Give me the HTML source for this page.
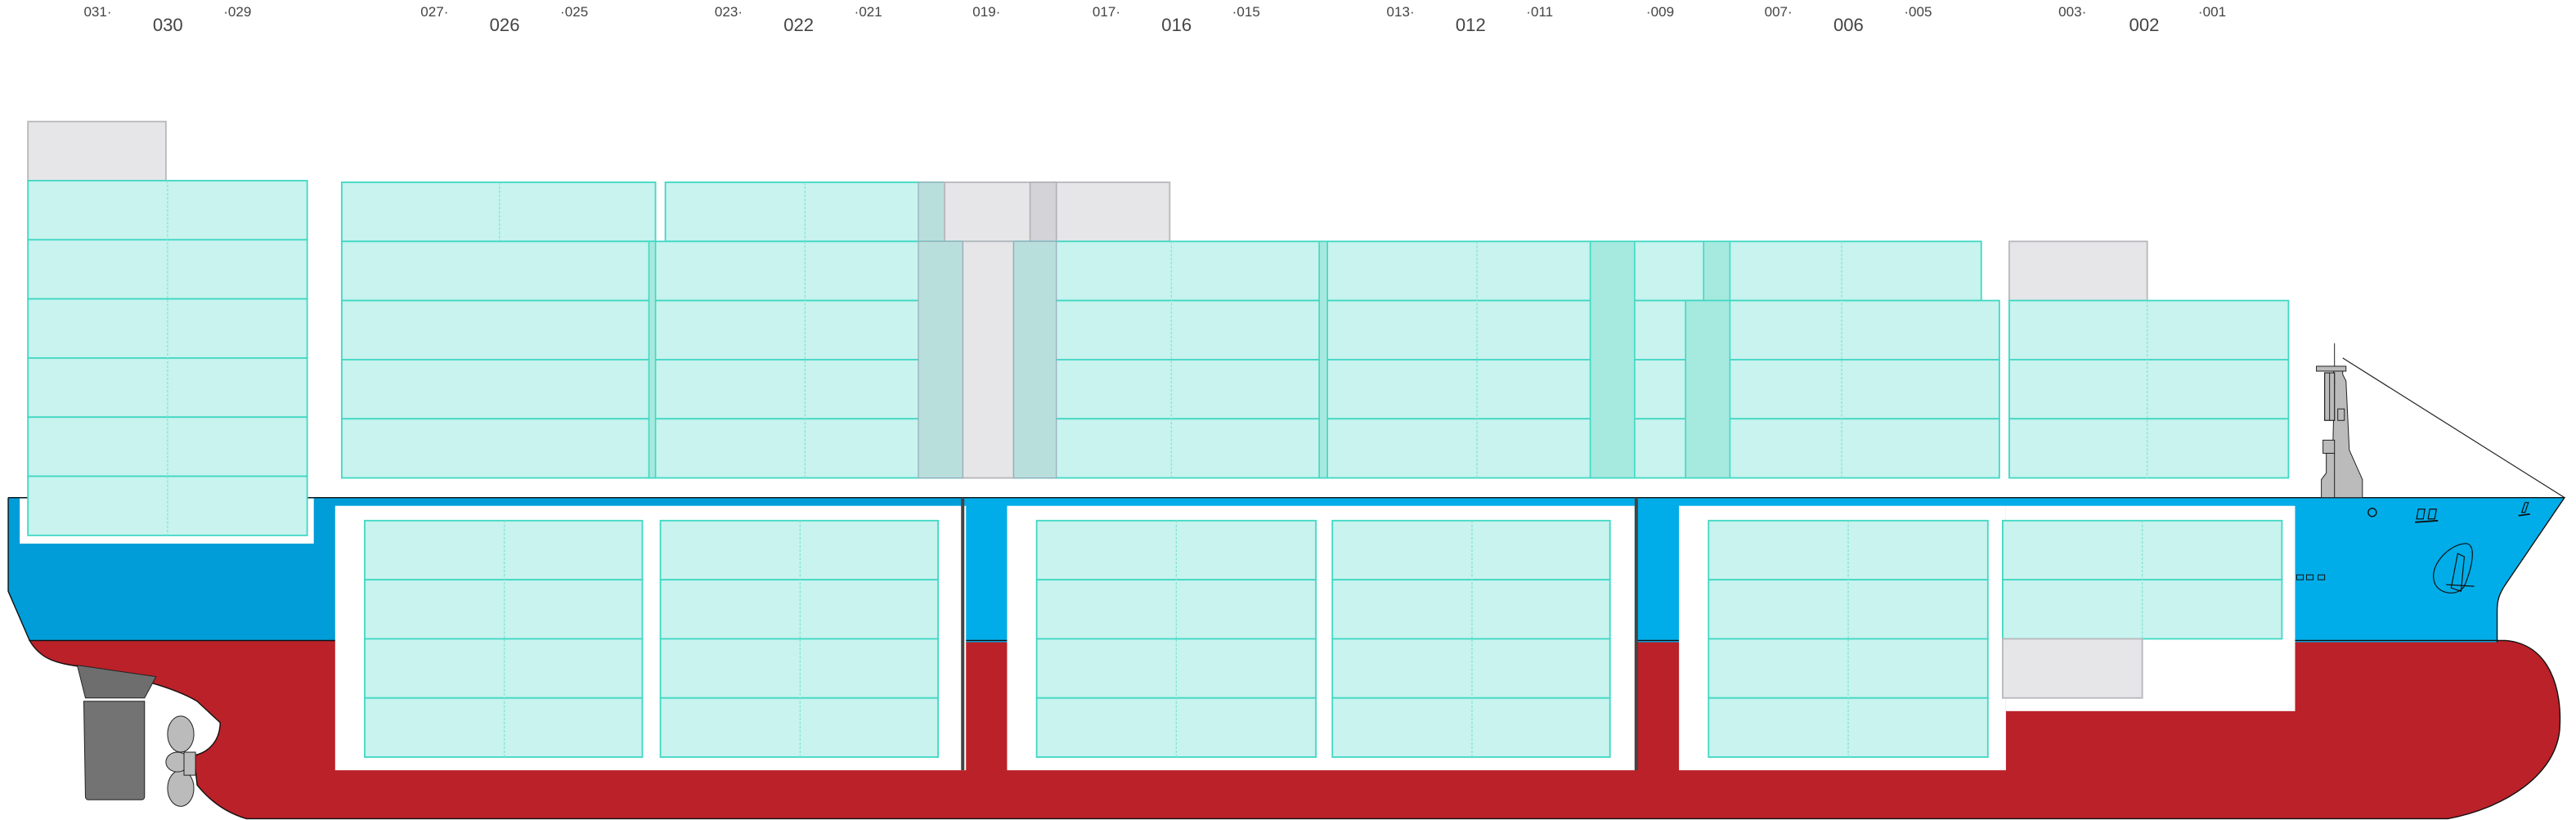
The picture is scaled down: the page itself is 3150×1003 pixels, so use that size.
<!DOCTYPE html>
<html><head><meta charset="utf-8"><style>
html,body{margin:0;padding:0;background:#fff}
svg{display:block}
text{font-family:"Liberation Sans",sans-serif;fill:#444}
</style></head><body>
<svg width="3150" height="1003" viewBox="0 0 1568 499.3" preserveAspectRatio="none" xmlns="http://www.w3.org/2000/svg">
<defs>
<style>
.t{fill:#c8f3ee;stroke:#40d8c4;stroke-width:0.9}
.g{fill:#e6e6e8;stroke:#b8b8bc;stroke-width:0.9}
.dk{fill:#a6e9df;stroke:#40d8c4;stroke-width:0.8}
.dg{fill:#b9dfdc;stroke:#9ab;stroke-width:0.6}
.dv{stroke:#7fe3d5;stroke-width:0.6;stroke-dasharray:1.5 1}
.s{font-size:8.5px}
.b{font-size:11px}
</style>
</defs>
<!-- labels -->
<text class="s" x="51" y="10">031·</text><text class="b" x="93" y="19">030</text><text class="s" x="136" y="10">·029</text>
<text class="s" x="256" y="10">027·</text><text class="b" x="298" y="19">026</text><text class="s" x="341" y="10">·025</text>
<text class="s" x="435" y="10">023·</text><text class="b" x="477" y="19">022</text><text class="s" x="520" y="10">·021</text>
<text class="s" x="592" y="10">019·</text>
<text class="s" x="665" y="10">017·</text><text class="b" x="707" y="19">016</text><text class="s" x="750" y="10">·015</text>
<text class="s" x="844" y="10">013·</text><text class="b" x="886" y="19">012</text><text class="s" x="929" y="10">·011</text>
<text class="s" x="1002" y="10">·009</text>
<text class="s" x="1074" y="10">007·</text><text class="b" x="1116" y="19">006</text><text class="s" x="1159" y="10">·005</text>
<text class="s" x="1253" y="10">003·</text><text class="b" x="1296" y="19">002</text><text class="s" x="1338" y="10">·001</text>

<!-- hull red -->
<path d="M18,390 L1525,390 C1552,392 1560,420 1558,445 C1555,472 1525,492 1490,498.5 L150,498.5 C138,495 128,488 120,478 L118,460 C128,458 134,450 134,440 L120,427 C105,418 80,412 50,406 C35,404 25,402 18,390 Z" fill="#bb2129" stroke="#111" stroke-width="0.7"/>
<!-- hull blue -->
<path d="M5,303 L1397,303 L1397,390 L18,390 L5,360 Z" fill="#009dd9"/>
<path d="M586,303 L1561,303 L1525,356 C1521,362 1520,366 1520,372 L1520,391 L586,391 Z" fill="#00ade8"/>
<path d="M5,303 L1561,303 L1525,356 C1521,362 1520,366 1520,372 L1520,391" fill="none" stroke="#111" stroke-width="0.7"/>
<path d="M5,303 L5,360 L18,390 L1520,390" fill="none" stroke="#111" stroke-width="0.7"/>
<!-- white cutouts -->
<rect x="12" y="303.5" width="179" height="27.5" fill="#fff"/>
<rect x="204" y="308" width="384" height="161" fill="#fff"/>
<rect x="613" y="308" width="382" height="161" fill="#fff"/>
<rect x="1022" y="308" width="199" height="161" fill="#fff"/>
<rect x="1221" y="308" width="176" height="125" fill="#fff"/>
<!-- bulkheads -->
<rect x="585" y="303" width="2" height="166" fill="#444"/>
<rect x="995" y="303" width="2" height="166" fill="#444"/>

<!-- stern rudder & propeller -->
<path d="M47,405 L95,412 L88,425 L52,425 Z" fill="#6e6e6e" stroke="#222" stroke-width="0.5"/>
<path d="M51,427 L88,427 L88,485 Q88,487 86,487 L54,487 Q52,487 52,485 Z" fill="#737373" stroke="#222" stroke-width="0.5"/>
<ellipse cx="110" cy="447" rx="8" ry="11" fill="#bbb" stroke="#222" stroke-width="0.5"/>
<ellipse cx="110" cy="480" rx="8" ry="11" fill="#bbb" stroke="#222" stroke-width="0.5"/>
<ellipse cx="108" cy="464" rx="7" ry="6" fill="#bbb" stroke="#222" stroke-width="0.5"/>
<rect x="112" y="458" width="7" height="14" fill="#bbb" stroke="#222" stroke-width="0.5"/>

<!-- bow mast -->
<line x1="1426" y1="218" x2="1561" y2="303" stroke="#222" stroke-width="0.6"/>
<line x1="1421" y1="209" x2="1421" y2="223" stroke="#222" stroke-width="0.5"/>
<path d="M1420,223 L1426,223 L1426,228 L1428,232 L1430,274 L1438,292 L1438,303 L1413,303 L1413,292 L1416,288 L1416,276 L1420,276 L1420,272 L1421,232 Z" fill="#bbb" stroke="#222" stroke-width="0.5"/>
<rect x="1410" y="223" width="18" height="3" fill="#bbb" stroke="#222" stroke-width="0.5"/>
<rect x="1415" y="227" width="6" height="29" fill="#bbb" stroke="#222" stroke-width="0.6"/>
<line x1="1418" y1="227" x2="1418" y2="256" stroke="#222" stroke-width="0.5"/>
<rect x="1423" y="249" width="4" height="7" fill="none" stroke="#222" stroke-width="0.5"/>
<rect x="1414" y="268" width="7" height="8" fill="#bbb" stroke="#222" stroke-width="0.5"/>
<line x1="1421" y1="276" x2="1421" y2="303" stroke="#222" stroke-width="0.5"/>
<!-- bow details -->
<circle cx="1444" cy="312" r="2.5" fill="none" stroke="#111" stroke-width="0.7"/>
<path d="M1471,316 l1,-6 h4 l-1,6 z M1478,316 l1,-6 h4 l-1,6 z" fill="none" stroke="#111" stroke-width="0.6"/>
<line x1="1470" y1="318" x2="1484" y2="317" stroke="#111" stroke-width="0.9"/>
<path d="M1535,312 l2,-6 h2 l-2,6 z" fill="none" stroke="#111" stroke-width="0.6"/>
<line x1="1533" y1="314" x2="1540" y2="313" stroke="#111" stroke-width="0.9"/>
<path d="M1482,355 C1478,345 1490,332 1500,331 C1508,330 1505,345 1500,357 C1495,364 1484,361 1482,355 Z" fill="none" stroke="#111" stroke-width="0.6"/>
<path d="M1492,358 L1496,337 L1500,339 L1498,360 Z M1489,356 L1506,357" fill="none" stroke="#111" stroke-width="0.6"/>
<path d="M1398,350 h4 v3 h-4 z M1404,350 h4 v3 h-4 z M1411,350 h4 v3 h-4 z" fill="none" stroke="#111" stroke-width="0.5"/>

<!-- deck containers -->
<rect class="g" x="17" y="74" width="84" height="36"/>
<g class="t">
<rect x="17" y="110" width="170" height="36"/><rect x="17" y="146" width="170" height="36"/><rect x="17" y="182" width="170" height="36"/>
<rect x="17" y="218" width="170" height="36"/><rect x="17" y="254" width="170" height="36"/><rect x="17" y="290" width="170" height="36"/>
<rect x="208" y="111" width="191" height="36"/>
<rect x="405" y="111" width="170" height="36"/>
</g>
<line class="dv" x1="102" y1="110" x2="102" y2="326"/>
<line class="dv" x1="304" y1="111" x2="304" y2="291"/>
<line class="dv" x1="490" y1="111" x2="490" y2="147"/>
<rect class="dg" x="559" y="111" width="16" height="36"/>
<rect class="g" x="575" y="111" width="137" height="36"/>
<rect x="627" y="111" width="16" height="36" fill="#d3d3d8" stroke="#b0b0b6" stroke-width="0.8"/>
<!-- main deck rows -->
<g class="t">
<rect x="208" y="147" width="998" height="36"/>
<rect x="208" y="183" width="1009" height="36"/>
<rect x="208" y="219" width="1009" height="36"/>
<rect x="208" y="255" width="1009" height="36"/>
</g>
<rect class="g" x="586" y="147" width="31" height="144"/>
<rect class="dg" x="559" y="147" width="27" height="144"/>
<rect class="dg" x="617" y="147" width="26" height="144"/>
<rect class="dk" x="395" y="147" width="4" height="144"/>
<rect class="dk" x="803" y="147" width="5" height="144"/>
<rect class="dk" x="968" y="147" width="27" height="144"/>
<rect class="dk" x="1037" y="147" width="16" height="36"/>
<rect class="dk" x="1026" y="183" width="27" height="108"/>
<line class="dv" x1="490" y1="147" x2="490" y2="291"/>
<line class="dv" x1="713" y1="147" x2="713" y2="291"/>
<line class="dv" x1="899" y1="147" x2="899" y2="291"/>
<line class="dv" x1="1121" y1="147" x2="1121" y2="291"/>
<rect class="g" x="1223" y="147" width="84" height="36"/>
<g class="t">
<rect x="1223" y="183" width="170" height="36"/><rect x="1223" y="219" width="170" height="36"/><rect x="1223" y="255" width="170" height="36"/>
</g>
<line class="dv" x1="1307" y1="183" x2="1307" y2="291"/>

<!-- hold containers -->
<g class="t">
<rect x="222" y="317" width="169" height="36"/><rect x="222" y="353" width="169" height="36"/><rect x="222" y="389" width="169" height="36"/><rect x="222" y="425" width="169" height="36"/>
<rect x="402" y="317" width="169" height="36"/><rect x="402" y="353" width="169" height="36"/><rect x="402" y="389" width="169" height="36"/><rect x="402" y="425" width="169" height="36"/>
<rect x="631" y="317" width="170" height="36"/><rect x="631" y="353" width="170" height="36"/><rect x="631" y="389" width="170" height="36"/><rect x="631" y="425" width="170" height="36"/>
<rect x="811" y="317" width="169" height="36"/><rect x="811" y="353" width="169" height="36"/><rect x="811" y="389" width="169" height="36"/><rect x="811" y="425" width="169" height="36"/>
<rect x="1040" y="317" width="170" height="36"/><rect x="1040" y="353" width="170" height="36"/><rect x="1040" y="389" width="170" height="36"/><rect x="1040" y="425" width="170" height="36"/>
<rect x="1219" y="317" width="170" height="36"/><rect x="1219" y="353" width="170" height="36"/>
</g>
<rect class="g" x="1219" y="389" width="85" height="36"/>
<line class="dv" x1="307" y1="317" x2="307" y2="461"/>
<line class="dv" x1="487" y1="317" x2="487" y2="461"/>
<line class="dv" x1="716" y1="317" x2="716" y2="461"/>
<line class="dv" x1="896" y1="317" x2="896" y2="461"/>
<line class="dv" x1="1125" y1="317" x2="1125" y2="461"/>
<line class="dv" x1="1304" y1="317" x2="1304" y2="389"/>
</svg>
</body></html>
